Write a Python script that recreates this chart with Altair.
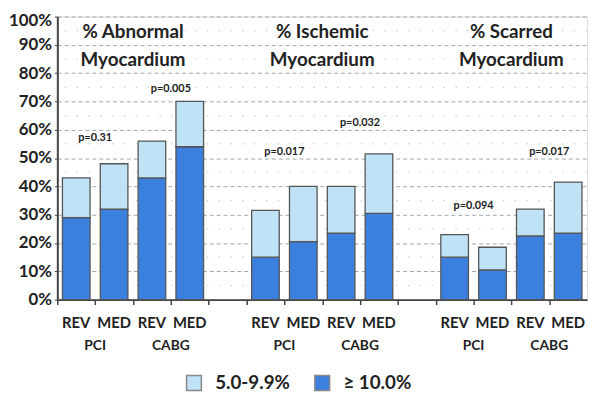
import altair as alt
import pandas as pd

# ---- data ----
panels = ["% Abnormal\nMyocardium", "% Ischemic\nMyocardium", "% Scarred\nMyocardium"]
arms = ["REV", "MED", "REV", "MED"]
strategies = ["PCI", "CABG"]
severe = [[29, 32, 43, 54], [15, 20.5, 23.5, 30.5], [15, 10.5, 22.5, 23.5]]      # >= 10.0%
total = [[43, 48, 56, 70], [31.5, 40, 40, 51.5], [23, 18.5, 32, 41.5]]          # >= 5.0%
p_text = [["p=0.31", "p=0.005"], ["p=0.017", "p=0.032"], ["p=0.094", "p=0.017"]]
p_y = [[57, 74.5], [52, 62.5], [33, 52]]
levels = ["5.0-9.9%", "≥ 10.0%"]
colors = ["#bfe2f6", "#3b7fdf"]
y_ticks = list(range(0, 101, 10))
dot_rows = [5, 15, 25, 35, 45, 55, 65, 75, 85, 95]

# slots (category order incl. empty gap slots between panels)
slots = []
for p in range(3):
    slots += [f"{p}-{a}" for a in range(4)]
    if p < 2:
        slots.append(f"gap{p}")

bar_rows, arm_rows, strat_rows, p_rows, title_rows = [], [], [], [], []
for p in range(3):
    for a in range(4):
        s = f"{p}-{a}"
        bar_rows.append(dict(slot=s, lo=0, hi=severe[p][a], level=levels[1]))
        bar_rows.append(dict(slot=s, lo=severe[p][a], hi=total[p][a], level=levels[0]))
        arm_rows.append(dict(slot=s, label=arms[a]))
    for k in range(2):
        strat_rows.append(dict(slot=f"{p}-{2*k}", label=strategies[k]))
        p_rows.append(dict(slot=f"{p}-{2*k}", label=p_text[p][k], y=p_y[p][k]))
    title_rows.append(dict(slot=f"{p}-1", label=panels[p], y=94.5))

W, H = 537, 287
step = W / len(slots)
FONT = "Lato"

xscale = alt.Scale(domain=slots, paddingInner=0.27, paddingOuter=0.135)
yscale = alt.Scale(domain=[0, 100], nice=False)
x_axis = alt.Axis(title=None, labels=False, ticks=True, tickSize=5,
                  tickOffset=-step / 2, domainColor="#444", tickColor="#444",
                  domainWidth=2, tickWidth=1.5)
y_axis = alt.Axis(title=None, values=y_ticks, labelOverlap=False,
                  labelExpr="datum.value + '%'", labelFont=FONT,
                  labelFontWeight="bold", labelFontSize=17, labelColor="#222",
                  labelOffset={"condition": {"test": "datum.value == 100", "value": 4}, "value": 0},
                  tickSize=3, labelPadding=3, domainColor="#444", domainWidth=2,
                  tickColor="#444", grid=True, gridDash=[4, 3],
                  gridColor="#9aa8a8", gridWidth=1)

def X():
    return alt.X("slot:N", scale=xscale, sort=slots, axis=x_axis)

def Y(field):
    return alt.Y(field, scale=yscale, axis=y_axis)

dots = alt.Chart(pd.DataFrame({"v": dot_rows})).mark_rule(
    color="#c8d0d0", strokeWidth=1.2, strokeDash=[1.5, 10.5]
).encode(y=Y("v:Q"))

bars = alt.Chart(pd.DataFrame(bar_rows)).mark_bar(stroke="#555", strokeWidth=1.3).encode(
    x=X(),
    y=Y("lo:Q"),
    y2="hi:Q",
    color=alt.Color("level:N", scale=alt.Scale(domain=levels, range=colors),
                    legend=alt.Legend(title=None, orient="none", legendX=129, legendY=362,
                                      direction="horizontal", symbolType="square",
                                      symbolSize=225, symbolStrokeColor="#888",
                                      symbolStrokeWidth=1.5, labelFont=FONT,
                                      labelFontWeight="bold", labelFontSize=19,
                                      labelColor="#222", columnPadding=22,
                                      labelOffset=12, padding=0)),
)

arm_text = alt.Chart(pd.DataFrame(arm_rows)).mark_text(
    font=FONT, fontWeight="bold", fontSize=15, color="#222", baseline="middle"
).encode(x=X(), y=alt.value(H + 24), text="label:N")

strat_text = alt.Chart(pd.DataFrame(strat_rows)).mark_text(
    font=FONT, fontWeight="bold", fontSize=14, color="#222", baseline="middle", dx=step / 2
).encode(x=X(), y=alt.value(H + 47), text="label:N")

p_marks = alt.Chart(pd.DataFrame(p_rows)).mark_text(
    font=FONT, fontWeight="bold", fontSize=11, color="#222", baseline="middle", dx=step / 2
).encode(x=X(), y=Y("y:Q"), text="label:N")

titles = alt.Chart(pd.DataFrame(title_rows)).mark_text(
    font=FONT, fontWeight="bold", fontSize=19, color="#222", baseline="middle",
    dx=step / 2, lineBreak="\n", lineHeight=28
).encode(x=X(), y=Y("y:Q"), text="label:N")

chart = alt.layer(dots, bars, arm_text, strat_text, p_marks, titles).properties(
    width=W, height=H,
    autosize=alt.AutoSizeParams(type="none"),
    padding={"left": 50, "top": 6, "right": 6, "bottom": 91},
).configure_view(stroke=None).configure(background="white")

chart.save("out.html", embed_options={"renderer": "svg", "actions": False})
